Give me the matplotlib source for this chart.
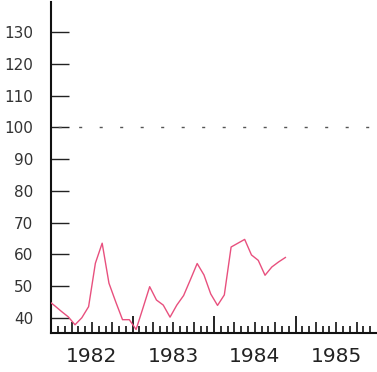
import matplotlib
matplotlib.use("Agg")
import matplotlib.pyplot as plt
import numpy as np
from matplotlib.ticker import FixedLocator

plt.rcParams['lines.scale_dashes'] = False
plt.rcParams['font.family'] = ['DejaVu Sans']

# monthly values, Dec 1981 .. Nov 1984 (plotted at mid-month)
values = [45.5, 43.8, 42.0, 40.3, 37.8, 40.0, 43.5, 57.2, 63.5, 50.9, 45.0, 39.4,
          39.4, 36.3, 43.0, 49.8, 45.6, 44.0, 40.2, 44.0, 47.0, 52.0, 57.1, 53.5,
          47.5, 43.9, 47.2, 62.3, 63.5, 64.7, 59.8, 58.1, 53.4, 56.0, 57.6, 59.0]
month_index = np.arange(-1, len(values) - 1)
x_vals = 1982 + (month_index + 0.5) / 12.0

years = [1982, 1983, 1984, 1985]
year_labels = ['1982', '1983', '1984', '1985']
y_ticks = [40, 50, 60, 70, 80, 90, 100, 110, 120, 130]
ref_level = 100

fig = plt.figure(figsize=(3.77, 3.72), dpi=100)
ax = fig.add_axes([0.136, 0.1048, 0.864, 0.8898])
ax.set_xlim(1982, 1986)
ax.set_ylim(35.2, 139.5)

ax.plot(x_vals, values, color='#e8507e', lw=1.0, zorder=3, clip_on=True)

# dotted reference line
ax.axhline(ref_level, color='#555555', lw=1.0, linestyle=(9.6, (2.2, 12.56)), zorder=2)

for s in ['top', 'right']:
    ax.spines[s].set_visible(False)
for s in ['left', 'bottom']:
    ax.spines[s].set_linewidth(1.5)
    ax.spines[s].set_color('#111111')

# y ticks
ax.set_yticks(y_ticks)
ax.set_yticklabels([str(v) for v in y_ticks])
ax.tick_params(axis='y', direction='in', length=13, width=1.0, color='#222222',
               pad=13, labelsize=11, labelcolor='#333333')

# x ticks: years (major), months (minor)
months_all = [1982 + m / 12.0 for m in range(0, 48)]
month_ticks = [v for i, v in enumerate(months_all) if i % 3 != 0]
quarter_ticks = [v for i, v in enumerate(months_all) if i % 3 == 0 and i % 12 != 0]
ax.xaxis.set_major_locator(FixedLocator(years))
ax.xaxis.set_minor_locator(FixedLocator(month_ticks))
ax.set_xticklabels([])
ax.tick_params(axis='x', which='major', direction='in', length=12, width=1.3, color='#111111')
ax.tick_params(axis='x', which='minor', direction='in', length=5, width=1.2, color='#111111')

sec = ax.secondary_xaxis('bottom')
sec.set_xticks(quarter_ticks)
sec.set_xticklabels([])
sec.tick_params(direction='in', length=8, width=1.2, color='#111111')
sec.spines['bottom'].set_visible(False)

for yr, lab in zip(years, year_labels):
    ax.annotate(lab, xy=(yr + 0.5, 0), xycoords=('data', 'axes fraction'),
                xytext=(0, -17), textcoords='offset points',
                ha='center', va='center', fontsize=14.5, color='#222222')

fig.savefig('out.png', dpi=100, facecolor='white')
